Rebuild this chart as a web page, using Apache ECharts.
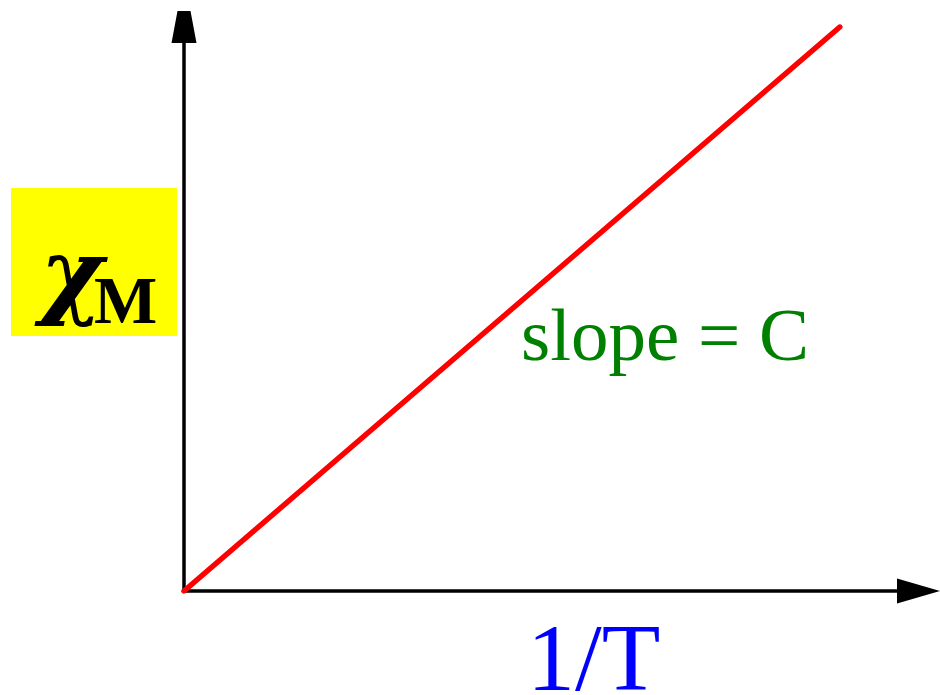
<!DOCTYPE html>
<html>
<head>
<meta charset="utf-8">
<script src="https://cdn.jsdelivr.net/npm/echarts@6/dist/echarts.min.js"></script>
<style>
  html, body { margin: 0; padding: 0; background: #fff; }
  #chart { width: 940px; height: 695px; }
</style>
</head>
<body>
<div id="chart"></div>
<script>
// Curie law sketch: chi_M against 1/T, a straight line through the origin
const invT = [0, 1]
const chiM = [0, 1]
const xMax = 1.12
const yMax = 1

const yLabel = 'χ'
const ySubLabel = 'M'
const xLabel = '1/T'
const slopeLabel = 'slope = C'

const chart = echarts.init(document.getElementById('chart'), null, { renderer: 'canvas' })

chart.setOption({
  animation: false,
  backgroundColor: '#fff',
  grid: { left: 184, right: 21.5, top: 27, bottom: 104 },
  xAxis: {
    type: 'value',
    min: 0,
    max: xMax,
    axisLine: {
      show: true,
      symbol: ['none', 'triangle'],
      symbolSize: [25, 43],
      lineStyle: { color: '#000', width: 3.5 }
    },
    axisTick: { show: false },
    axisLabel: { show: false },
    splitLine: { show: false }
  },
  yAxis: {
    type: 'value',
    min: 0,
    max: yMax,
    axisLine: {
      show: true,
      // flat-topped arrow head, as in the sketch
      symbol: ['none', 'path://M6,0 L19,0 L25,32 L0,32 Z'],
      symbolSize: [25, 32],
      lineStyle: { color: '#000', width: 3.5 }
    },
    axisTick: { show: false },
    axisLabel: { show: false },
    splitLine: { show: false }
  },
  graphic: [
    { type: 'rect', left: 11, top: 188, shape: { width: 166, height: 148 }, style: { fill: '#ffff00' } },
    {
      type: 'text', x: 40, y: 281,
      style: { text: yLabel, fill: '#000', font: 'italic bold 96px "DejaVu Serif"', verticalAlign: 'middle' }
    },
    {
      type: 'text', x: 94, y: 306,
      style: { text: ySubLabel, fill: '#000', font: 'bold 67px "Liberation Serif"', verticalAlign: 'middle' }
    },
    {
      type: 'text', x: 521, y: 340,
      style: { text: slopeLabel, fill: '#008000', font: '75px "Liberation Serif"', verticalAlign: 'middle' }
    },
    {
      type: 'text', x: 527, y: 665,
      style: { text: xLabel, fill: '#0000ff', font: '96px "Liberation Serif"', verticalAlign: 'middle' }
    }
  ],
  series: [
    {
      type: 'line',
      data: invT.map((x, i) => [x, chiM[i]]),
      symbol: 'none',
      silent: true,
      lineStyle: { color: '#ff0000', width: 5.5, cap: 'round' }
    }
  ]
})
</script>
</body>
</html>
